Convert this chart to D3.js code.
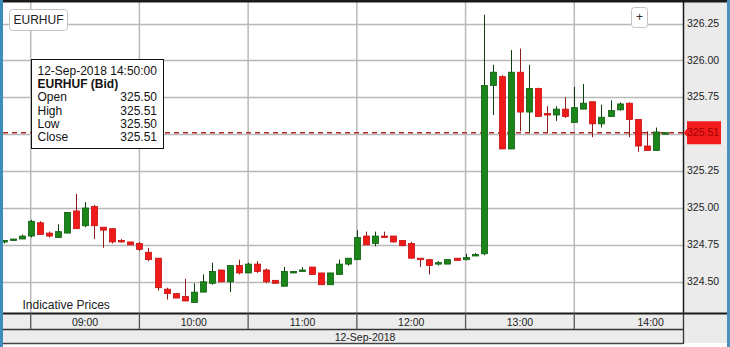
<!DOCTYPE html>
<html>
<head>
<meta charset="utf-8">
<script src="https://cdn.jsdelivr.net/npm/d3@7"></script>
<style>
  body { margin: 0; background: #fff; }
  svg { display: block; font-family: "Liberation Sans", Arial, sans-serif; }
</style>
</head>
<body>
<svg width="730" height="347"></svg>
<script>
// 5 minute candles, 12-Sep-2018, EURHUF bid
var times = ["08:45","08:50","08:55","09:00","09:05","09:10","09:15","09:20","09:25","09:30","09:35","09:40",
  "09:45","09:50","09:55","10:00","10:05","10:10","10:15","10:20","10:25","10:30","10:35","10:40",
  "10:45","10:50","10:55","11:00","11:05","11:10","11:15","11:20","11:25","11:30","11:35","11:40",
  "11:45","11:50","11:55","12:00","12:05","12:10","12:15","12:20","12:25","12:30","12:35","12:40",
  "12:45","12:50","12:55","13:00","13:05","13:10","13:15","13:20","13:25","13:30","13:35","13:40",
  "13:45","13:50","13:55","14:00","14:05","14:10","14:15","14:20","14:25","14:30","14:35","14:40",
  "14:45","14:50"];
var opens = [324.77,324.78,324.79,324.81,324.90,324.83,324.80,324.83,324.98,324.88,325.01,324.87,
  324.86,324.78,324.77,324.76,324.70,324.66,324.45,324.42,324.40,324.36,324.43,324.49,
  324.58,324.50,324.61,324.56,324.62,324.58,324.51,324.47,324.56,324.57,324.60,324.56,
  324.48,324.55,324.62,324.65,324.81,324.76,324.81,324.81,324.78,324.76,324.66,324.65,
  324.62,324.62,324.66,324.65,324.675,324.69,325.83,325.89,325.40,325.92,325.65,325.81,
  325.64,325.63,325.67,325.58,325.67,325.72,325.57,325.62,325.665,325.71,325.60,325.42,
  325.39,325.50];
var highs = [324.78,324.79,324.82,324.92,324.91,324.84,324.89,324.97,325.095,325.04,325.02,324.87,
  324.86,324.79,324.77,324.77,324.73,324.66,324.46,324.42,324.52,324.49,324.55,324.63,
  324.58,324.61,324.65,324.63,324.64,324.59,324.51,324.60,324.57,324.60,324.60,324.56,
  324.56,324.65,324.66,324.85,324.84,324.84,324.84,324.81,324.78,324.77,324.66,324.655,
  324.64,324.65,324.66,324.69,324.695,326.31,325.97,325.90,326.07,326.08,325.97,325.815,
  325.69,325.69,325.75,325.82,325.84,325.72,325.70,325.73,325.715,325.715,325.60,325.52,
  325.545,325.51];
var lows = [324.76,324.78,324.79,324.80,324.82,324.80,324.80,324.83,324.86,324.87,324.79,324.73,
  324.76,324.765,324.75,324.71,324.64,324.44,324.38,324.39,324.37,324.36,324.43,324.48,
  324.50,324.43,324.55,324.56,324.56,324.49,324.49,324.47,324.56,324.57,324.55,324.48,
  324.48,324.55,324.61,324.65,324.75,324.74,324.80,324.765,324.74,324.66,324.60,324.55,
  324.61,324.62,324.645,324.645,324.675,324.68,325.63,325.40,325.40,325.52,325.51,325.62,
  325.51,325.59,325.61,325.58,325.67,325.48,325.545,325.62,325.66,325.48,325.38,325.39,
  325.39,325.50];
var closes = [324.78,324.79,324.81,324.91,324.82,324.81,324.84,324.97,324.86,325.00,324.88,324.85,
  324.77,324.77,324.75,324.72,324.65,324.46,324.42,324.39,324.37,324.43,324.50,324.57,
  324.50,324.61,324.56,324.62,324.57,324.50,324.49,324.57,324.57,324.58,324.55,324.48,
  324.56,324.62,324.66,324.80,324.75,324.81,324.80,324.77,324.745,324.66,324.65,324.61,
  324.63,324.65,324.645,324.665,324.685,325.83,325.92,325.40,325.92,325.65,325.81,325.62,
  325.63,325.67,325.62,325.68,325.71,325.57,325.615,325.66,325.705,325.60,325.42,325.39,
  325.515,325.51];

var priceTicks = [324.50, 324.75, 325.00, 325.25, 325.50, 325.75, 326.00, 326.25];
var hourLabels = ["09:00", "10:00", "11:00", "12:00", "13:00", "14:00"];
var dateLabel = "12-Sep-2018";
var symbol = "EURHUF";
var lastPrice = 325.51;

var parseT = d3.timeParse("%d-%b-%Y %H:%M");
var candles = times.map(function (t, i) {
  return { date: parseT(dateLabel + " " + t), o: opens[i], h: highs[i], l: lows[i], c: closes[i] };
});
var hours = hourLabels.map(function (h) { return parseT(dateLabel + " " + h); });

var svg = d3.select("svg");
var plotLeft = 3, plotRight = 683, plotTop = 2, plotBottom = 313, outerRight = 727;

var x = d3.scaleTime()
  .domain([parseT(dateLabel + " 09:00"), parseT(dateLabel + " 15:00")])
  .range([30.7, 683]);
var y = d3.scaleLinear().domain([324.5, 326.25]).range([281.8, 23.5]);

// frame pieces
svg.append("rect").attr("x", 0).attr("y", 0).attr("width", 3).attr("height", 347).attr("fill", "#3b8dba");
svg.append("rect").attr("x", outerRight).attr("y", 0).attr("width", 3).attr("height", 347).attr("fill", "#4a93bd");
svg.append("rect").attr("x", plotRight).attr("y", plotTop).attr("width", outerRight - plotRight).attr("height", 343 - plotTop)
  .attr("fill", "#ebebeb");

svg.append("defs").append("clipPath").attr("id", "plotclip")
  .append("rect").attr("x", plotLeft).attr("y", plotTop).attr("width", plotRight - plotLeft).attr("height", plotBottom - plotTop);

var plot = svg.append("g").attr("clip-path", "url(#plotclip)");

// grid
plot.selectAll("line.hg").data(priceTicks).enter().append("line")
  .attr("class", "hg")
  .attr("x1", plotLeft).attr("x2", plotRight)
  .attr("y1", function (d) { return Math.round(y(d)) + 0.5; })
  .attr("y2", function (d) { return Math.round(y(d)) + 0.5; })
  .attr("stroke", "#b9b9b9").attr("stroke-width", 1.3);
plot.selectAll("line.vg").data(hours).enter().append("line")
  .attr("class", "vg")
  .attr("x1", function (d) { return x(d); }).attr("x2", function (d) { return x(d); })
  .attr("y1", plotTop).attr("y2", plotBottom)
  .attr("stroke", "#b9b9b9").attr("stroke-width", 1.5);

// last price line
plot.append("line")
  .attr("x1", plotLeft).attr("x2", plotRight)
  .attr("y1", y(lastPrice)).attr("y2", y(lastPrice))
  .attr("stroke", "#b52a2a").attr("stroke-width", 1.5).attr("stroke-dasharray", "5,4");

// candles
var bw = 6;
var cg = plot.selectAll("g.candle").data(candles).enter().append("g").attr("class", "candle");
cg.append("line")
  .attr("x1", function (d) { return Math.round(x(d.date)) + 0.5; })
  .attr("x2", function (d) { return Math.round(x(d.date)) + 0.5; })
  .attr("y1", function (d) { return y(d.h); })
  .attr("y2", function (d) { return y(d.l); })
  .attr("stroke", function (d) { return d.c >= d.o ? "#0e3f0e" : "#8e1c1c"; })
  .attr("stroke-width", 1);
cg.append("rect")
  .attr("x", function (d) { return Math.round(x(d.date)) + 0.5 - bw / 2; })
  .attr("y", function (d) { return y(Math.max(d.o, d.c)); })
  .attr("width", bw)
  .attr("height", function (d) { return Math.max(1.5, Math.abs(y(d.o) - y(d.c))); })
  .attr("fill", function (d) { return d.c >= d.o ? "#1a861a" : "#f01a1a"; })
  .attr("stroke", function (d) { return d.c >= d.o ? "#0f5c0f" : "#c81010"; })
  .attr("stroke-width", 0.8);

// plot border lines
svg.append("rect").attr("x", plotLeft).attr("y", 0).attr("width", outerRight - plotLeft).attr("height", 2.5).attr("fill", "#1a1a1a");
svg.append("line").attr("x1", plotRight + 0.5).attr("x2", plotRight + 0.5).attr("y1", 0).attr("y2", plotBottom)
  .attr("stroke", "#1a1a1a").attr("stroke-width", 1.5);

// right price axis
var yAxis = d3.axisRight(y).tickValues(priceTicks).tickSize(0).tickPadding(4).tickFormat(d3.format(".2f"));
var ya = svg.append("g").attr("transform", "translate(" + plotRight + ",0)").call(yAxis);
ya.select(".domain").remove();
ya.selectAll("text").attr("font-size", 10.5).attr("fill", "#222")
  .attr("font-family", "'Liberation Sans', Arial, sans-serif").attr("dy", "0.25em");

// current price marker
var py = y(lastPrice);
svg.append("path")
  .attr("d", "M" + (plotRight + 0.5) + "," + py + " L" + (plotRight + 4) + "," + (py - 4) + " L" + (plotRight + 4) + "," + (py - 11.5) +
    " L" + (plotRight + 38) + "," + (py - 11.5) + " L" + (plotRight + 38) + "," + (py + 11.5) + " L" + (plotRight + 4) + "," + (py + 11.5) +
    " L" + (plotRight + 4) + "," + (py + 4) + " Z")
  .attr("fill", "#f21c1c");
svg.append("text").attr("x", plotRight + 4).attr("y", py).attr("dy", "0.35em")
  .attr("font-size", 10.5).attr("fill", "#a30000").text(d3.format(".2f")(lastPrice));

// bottom time axis rows
var row1 = plotBottom, row2 = 329, row3 = 343;
svg.append("rect").attr("x", plotLeft).attr("y", row1).attr("width", plotRight - plotLeft).attr("height", row3 - row1)
  .attr("fill", "#ececec");
svg.append("line").attr("x1", plotLeft).attr("x2", outerRight).attr("y1", row1 + 0.5).attr("y2", row1 + 0.5)
  .attr("stroke", "#1a1a1a").attr("stroke-width", 2);
svg.append("line").attr("x1", plotLeft).attr("x2", plotRight).attr("y1", row2 + 0.5).attr("y2", row2 + 0.5)
  .attr("stroke", "#333").attr("stroke-width", 1.3);
svg.append("line").attr("x1", plotLeft).attr("x2", plotRight).attr("y1", row3 + 0.5).attr("y2", row3 + 0.5)
  .attr("stroke", "#444").attr("stroke-width", 1.3);
svg.append("line").attr("x1", plotRight + 0.5).attr("x2", plotRight + 0.5).attr("y1", row1).attr("y2", row3 + 1)
  .attr("stroke", "#333").attr("stroke-width", 1.3);
svg.selectAll("line.sep").data(hours).enter().append("line")
  .attr("class", "sep")
  .attr("x1", function (d) { return x(d); }).attr("x2", function (d) { return x(d); })
  .attr("y1", row1).attr("y2", row2)
  .attr("stroke", "#555").attr("stroke-width", 1.3);
svg.selectAll("text.hr").data(hours).enter().append("text")
  .attr("class", "hr")
  .attr("x", function (d, i) {
    var end = i < hours.length - 1 ? x(hours[i + 1]) : outerRight;
    return (x(d) + end) / 2;
  })
  .attr("y", (row1 + row2) / 2 + 1).attr("dy", "0.35em")
  .attr("text-anchor", "middle").attr("font-size", 10.5).attr("fill", "#222")
  .text(function (d, i) { return hourLabels[i]; });
svg.append("text").attr("x", (plotLeft + outerRight) / 2).attr("y", (row2 + row3) / 2 + 1).attr("dy", "0.35em")
  .attr("text-anchor", "middle").attr("font-size", 10.5).attr("fill", "#222").text(dateLabel);

// symbol button and zoom button
svg.append("rect").attr("x", 9.5).attr("y", 9.5).attr("width", 58).attr("height", 21).attr("rx", 3)
  .attr("fill", "#fff").attr("stroke", "#c4c4c4");
svg.append("text").attr("x", 38.5).attr("y", 20).attr("dy", "0.35em").attr("text-anchor", "middle")
  .attr("font-size", 12).attr("fill", "#222").text(symbol);
svg.append("rect").attr("x", 631.5).attr("y", 7.5).attr("width", 16).attr("height", 20).attr("rx", 3)
  .attr("fill", "#fff").attr("stroke", "#c4c4c4");
svg.append("text").attr("x", 639.5).attr("y", 17).attr("dy", "0.35em").attr("text-anchor", "middle")
  .attr("font-size", 12).attr("fill", "#333").text("+");

svg.append("text").attr("x", 22.5).attr("y", 309).attr("font-size", 12).attr("fill", "#222").text("Indicative Prices");

// tooltip for the last candle
var last = candles[candles.length - 1];
var tip = svg.append("g");
tip.append("rect").attr("x", 31.5).attr("y", 59.5).attr("width", 132).attr("height", 89)
  .attr("fill", "#fff").attr("stroke", "#111");
tip.append("text").attr("x", 37.5).attr("y", 75).attr("font-size", 12).attr("fill", "#111")
  .text(d3.timeFormat("%d-%b-%Y %H:%M:%S")(last.date));
tip.append("text").attr("x", 37.5).attr("y", 88.2).attr("font-size", 12).attr("font-weight", "bold").attr("fill", "#111")
  .text(symbol + " (Bid)");
var rows = [["Open", last.o], ["High", last.h], ["Low", last.l], ["Close", last.c]];
rows.forEach(function (r, i) {
  tip.append("text").attr("x", 37.5).attr("y", 101.4 + i * 13.2).attr("font-size", 12).attr("fill", "#111").text(r[0]);
  tip.append("text").attr("x", 157).attr("y", 101.4 + i * 13.2).attr("font-size", 12).attr("fill", "#111")
    .attr("text-anchor", "end").text(d3.format(".2f")(r[1]));
});
</script>
</body>
</html>
